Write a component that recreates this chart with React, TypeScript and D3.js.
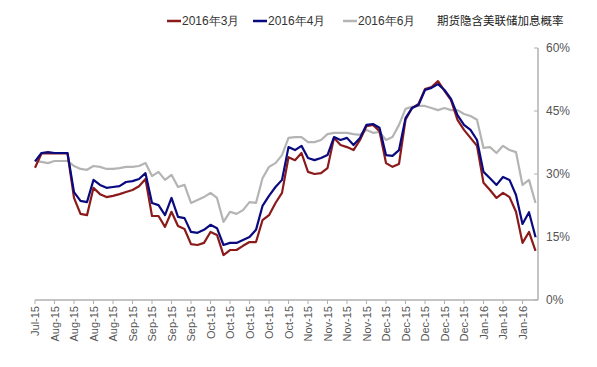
import React from "react";
import * as d3 from "d3";

const tickLabels = [
  "Jul-15", "Aug-15", "Aug-15", "Aug-15", "Aug-15", "Sep-15", "Sep-15", "Sep-15", "Sep-15",
  "Oct-15", "Oct-15", "Oct-15", "Oct-15", "Oct-15", "Nov-15", "Nov-15", "Nov-15", "Nov-15",
  "Dec-15", "Dec-15", "Dec-15", "Dec-15", "Dec-15", "Jan-16", "Jan-16", "Jan-16",
];

const seriesNames = ["2016年3月", "2016年4月", "2016年6月"];

const mar16 = [
  31.5, 34.9, 34.9, 34.9, 34.9, 34.9, 24.3, 20.5, 20.2, 26.7,
  25.2, 24.5, 24.8, 25.2, 25.7, 26.2, 27.1, 28.8, 20.0, 20.0,
  17.4, 21.0, 17.6, 16.9, 13.3, 13.1, 13.6, 16.2, 15.5, 10.7,
  11.9, 11.9, 12.9, 13.8, 13.8, 19.0, 20.2, 23.1, 25.5, 34.0,
  33.3, 35.0, 30.5, 30.0, 30.2, 31.4, 38.6, 36.9, 36.4, 35.7,
  38.1, 41.4, 41.7, 40.2, 32.6, 31.7, 32.4, 42.9, 45.7, 46.7,
  50.2, 50.7, 52.1, 49.8, 47.6, 42.9, 40.5, 38.6, 36.7, 27.9,
  26.2, 24.3, 25.5, 24.5, 21.0, 13.6, 16.2, 11.7,
];

const apr16 = [
  33.0, 35.0, 35.2, 35.0, 35.0, 35.0, 25.7, 23.6, 23.3, 28.6,
  27.4, 26.7, 26.9, 27.1, 28.1, 28.3, 28.8, 30.2, 23.1, 22.6,
  20.2, 24.3, 19.8, 19.5, 16.2, 16.0, 16.7, 17.9, 17.1, 13.1,
  13.6, 13.6, 14.3, 15.0, 16.7, 22.4, 24.8, 26.9, 28.6, 36.4,
  35.7, 36.7, 33.8, 33.3, 33.8, 34.5, 38.8, 38.1, 38.6, 36.9,
  38.6, 41.7, 41.9, 41.0, 34.5, 34.3, 35.7, 43.3, 45.7, 46.4,
  50.0, 50.5, 51.4, 50.0, 47.9, 44.0, 41.7, 40.5, 38.1, 30.5,
  29.0, 27.4, 29.3, 28.6, 25.0, 18.1, 20.9, 15.0,
];

const jun16 = [
  33.1, 32.9, 32.6, 33.1, 33.1, 33.1, 31.9, 31.2, 31.0, 31.9,
  31.7, 31.2, 31.2, 31.4, 31.7, 31.7, 31.9, 32.6, 29.5, 30.5,
  28.6, 29.8, 26.9, 27.4, 23.1, 23.8, 24.5, 25.5, 24.3, 18.6,
  21.0, 20.5, 21.4, 23.3, 23.1, 29.0, 31.7, 32.6, 34.5, 38.6,
  38.8, 38.8, 37.6, 37.6, 38.1, 39.5, 39.8, 39.8, 39.8, 39.5,
  39.3, 40.5, 39.8, 40.0, 38.1, 38.8, 41.7, 45.5, 46.0, 46.2,
  46.2, 45.7, 45.2, 45.7, 45.2, 45.2, 44.3, 43.8, 42.9, 36.2,
  36.4, 35.0, 36.7, 35.7, 35.2, 27.4, 28.6, 23.1,
];

const yTicks = [0, 15, 30, 45, 60];
const colors = ["#8B1A1A", "#0A0A80", "#B4B4B4"];

export default function App() {
  const W = 597, H = 367;
  const left = 35, right = 538, top = 48, bottom = 300;
  const n = mar16.length;
  const step = 6.5;
  const x = d3.scaleLinear().domain([0, n - 1]).range([left, left + step * (n - 1)]);
  const y = d3.scaleLinear().domain([0, 60]).range([bottom, top]);
  const line = d3.line<number>().x((_, i) => x(i)).y((d) => y(d));
  const series = [mar16, apr16, jun16];
  const font = "Arial, 'Liberation Sans', sans-serif";
  const legendX = [167, 253, 343];

  return (
    <svg width={W} height={H} style={{ position: "absolute", left: 0, top: 0, background: "#fff" }}>
      {/* bottom axis */}
      <line x1={left} x2={right} y1={bottom} y2={bottom} stroke="#b0b0b0" strokeWidth={1.5} />
      {tickLabels.map((t, k) => {
        const tx = x(k * 3);
        return (
          <g key={k}>
            <line x1={tx} x2={tx} y1={bottom} y2={bottom + 4} stroke="#b0b0b0" strokeWidth={1} />
            <text
              transform={`translate(${tx + 4},${bottom + 6}) rotate(-90)`}
              textAnchor="end"
              fontSize={11}
              fontFamily={font}
              fill="#555"
            >
              {t}
            </text>
          </g>
        );
      })}
      {/* right axis */}
      <line x1={right} x2={right} y1={top} y2={bottom} stroke="#b0b0b0" strokeWidth={1.5} />
      {yTicks.map((v) => (
        <g key={v}>
          <line x1={right - 4} x2={right} y1={y(v)} y2={y(v)} stroke="#b0b0b0" strokeWidth={1} />
          <text x={right + 8} y={y(v) + 4} fontSize={12} fontFamily={font} fill="#555">
            {v}%
          </text>
        </g>
      ))}
      {/* lines */}
      {[2, 0, 1].map((s) => (
        <path
          key={s}
          d={line(series[s]) || ""}
          fill="none"
          stroke={colors[s]}
          strokeWidth={2.2}
          strokeLinejoin="round"
        />
      ))}
      {/* legend */}
      {seriesNames.map((nm, i) => (
        <g key={nm}>
          <line x1={legendX[i]} x2={legendX[i] + 14} y1={21} y2={21} stroke={colors[i]} strokeWidth={2.5} />
          <text x={legendX[i] + 15} y={25} fontSize={12} fontFamily={font} fill="#333">
            {nm}
          </text>
        </g>
      ))}
      <text x={437} y={25} fontSize={11.5} fontFamily="'Noto Sans CJK SC', sans-serif" fill="#222">
        期货隐含美联储加息概率
      </text>
    </svg>
  );
}
